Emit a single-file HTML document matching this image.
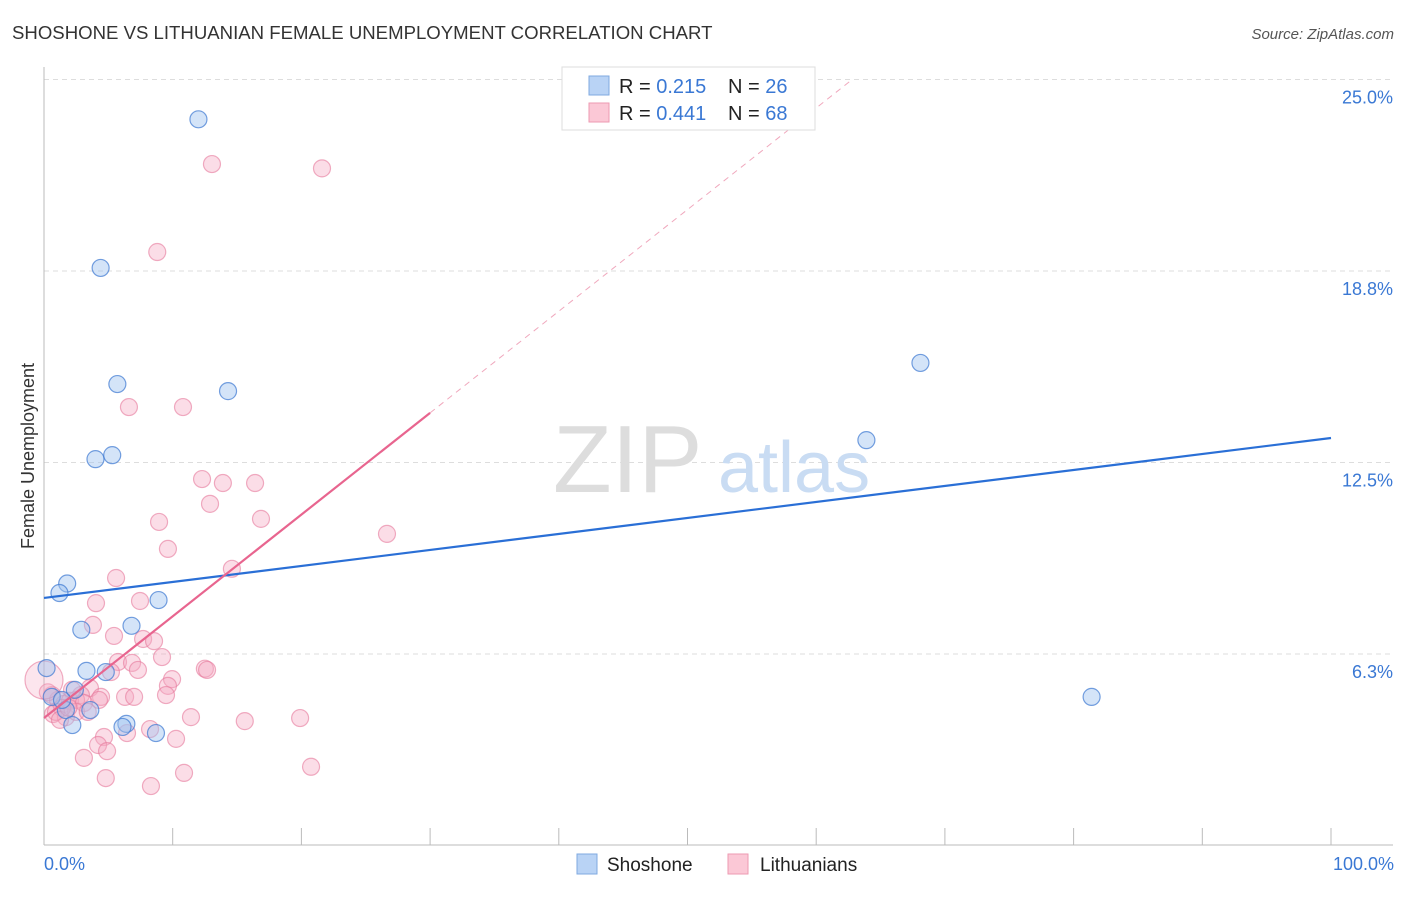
<!DOCTYPE html>
<html><head><meta charset="utf-8"><style>
body{margin:0;background:#fff;font-family:"Liberation Sans",sans-serif;}
svg text{font-family:"Liberation Sans",sans-serif;}
</style></head><body>
<svg id="chart" width="1406" height="892">
<text x="12" y="39" font-size="18.6" fill="#333">SHOSHONE VS LITHUANIAN FEMALE UNEMPLOYMENT CORRELATION CHART</text>
<text x="1394" y="39" font-size="15" fill="#555" text-anchor="end" font-style="italic">Source: ZipAtlas.com</text>
<g id="grid"></g>
<g>
<text x="553" y="492" font-size="96" fill="#ddd" font-family="Liberation Serif">ZIP</text>
<text x="718" y="492" font-size="72" fill="#c9dcf3">atlas</text>
</g>
<g id="axes"></g>
<g id="pts"></g>
<g id="lines"></g>
<text transform="translate(34,456) rotate(-90)" font-size="18" fill="#333" text-anchor="middle">Female Unemployment</text>
<text x="44" y="870" font-size="18" fill="#3a78d4">0.0%</text>
<text x="1394" y="870" font-size="18" fill="#3a78d4" text-anchor="end">100.0%</text>
<g>
<rect x="562" y="67" width="253" height="63" fill="#fff" stroke="#ddd"/>
<rect x="589" y="76" width="20" height="19" fill="#b9d3f5" stroke="#7fa9e0"/>
<rect x="589" y="103" width="20" height="19" fill="#fbc8d6" stroke="#ee9ab2"/>
<text x="619" y="93" font-size="20" fill="#222">R = <tspan fill="#3a78d4">0.215</tspan></text>
<text x="728" y="93" font-size="20" fill="#222">N = <tspan fill="#3a78d4">26</tspan></text>
<text x="619" y="120" font-size="20" fill="#222">R = <tspan fill="#3a78d4">0.441</tspan></text>
<text x="728" y="120" font-size="20" fill="#222">N = <tspan fill="#3a78d4">68</tspan></text>
</g>
<g>
<rect x="577" y="854" width="20" height="20" fill="#b9d3f5" stroke="#7fa9e0"/>
<text x="607" y="871" font-size="19" fill="#222">Shoshone</text>
<rect x="728" y="854" width="20" height="20" fill="#fbc8d6" stroke="#ee9ab2"/>
<text x="760" y="871" font-size="19" fill="#222">Lithuanians</text>
</g>
</svg>
<script>
const yTicks=[6.25,12.5,18.75,25];
const yTickLabels=["6.3%","12.5%","18.8%","25.0%"];
const xTicks=[0,10,20,30,40,50,60,70,80,90,100];
const shoshoneX=[12.0,4.4,5.7,14.3,4.0,5.3,63.9,68.1,81.4,1.8,1.2,8.9,2.9,6.8,3.3,4.8,0.2,0.6,2.4,3.6,1.7,2.2,6.4,6.1,8.7,1.4];
const shoshoneY=[23.7,18.85,15.06,14.83,12.61,12.74,13.23,15.75,4.85,8.55,8.24,8.01,7.04,7.17,5.70,5.66,5.79,4.85,5.08,4.42,4.42,3.93,3.97,3.87,3.67,4.75];
const lithX=[13.05,21.6,8.8,6.6,10.8,12.28,13.9,16.4,12.9,16.86,8.94,26.65,9.63,14.6,5.6,7.46,4.04,3.8,5.44,7.7,8.55,9.17,5.75,6.84,7.3,5.2,12.5,12.67,9.95,9.63,3.57,4.43,6.3,7.0,9.48,2.87,4.27,0.62,1.09,1.55,2.02,2.49,3.1,0.7,1.7,2.49,1.4,11.42,15.6,19.9,8.24,6.45,4.66,10.26,4.2,4.9,3.1,20.75,4.8,10.88,8.31,0.3,0.93,2.18,3.4,1.24,0.0,1.9];
const lithY=[22.24,22.1,19.37,14.31,14.31,11.96,11.83,11.83,11.15,10.66,10.56,10.17,9.68,9.03,8.73,7.98,7.91,7.2,6.84,6.74,6.67,6.15,5.99,5.96,5.73,5.66,5.77,5.73,5.43,5.21,5.14,4.85,4.85,4.85,4.91,4.91,4.75,4.91,4.75,4.62,4.72,4.75,4.65,4.29,4.19,4.36,4.49,4.19,4.06,4.16,3.8,3.67,3.54,3.48,3.28,3.08,2.86,2.57,2.2,2.37,1.94,5.0,4.36,5.08,4.36,4.1,5.4,4.5];
const lithSize=lithX.map((_,i)=>i===66?19:8.5);
const blueLine=[[0,8.08],[100,13.3]];
const pinkLine=[[0,4.16],[30,14.12]];
const pinkDash=[[30,14.12],[62.8,25]];
const NS='http://www.w3.org/2000/svg';
const X=v=>44+v*12.87, Y=v=>845.5-v*30.64;
function mk(tag,attrs,parent){const e=document.createElementNS(NS,tag);for(const k in attrs)e.setAttribute(k,attrs[k]);document.getElementById(parent).appendChild(e);return e;}
yTicks.forEach((t,i)=>{
 const l=mk('line',{x1:44,x2:1393,y1:Y(t),y2:Y(t),stroke:'#ddd','stroke-dasharray':'5,4'},'grid');
 
 
 const tx=mk('text',{x:1393,y:Y(t)+24,'font-size':18,fill:'#3a78d4','text-anchor':'end'},'grid');
 tx.textContent=yTickLabels[i];
 
 
});
const ax=mk('line',{x1:44,x2:1393,y1:845,y2:845,stroke:'#bbb'},'axes');


const ay=mk('line',{x1:44,x2:44,y1:67,y2:845,stroke:'#bbb'},'axes');


xTicks.forEach(t=>{
 const l=mk('line',{x1:X(t),x2:X(t),y1:828,y2:845,stroke:'#bbb'},'axes');
 
 
});
lithX.forEach((v,i)=>{
 const big=lithSize[i]>10;
 const c=mk('circle',{cx:X(v),cy:Y(lithY[i]),r:lithSize[i],fill:big?'rgba(245,170,195,0.3)':'rgba(245,170,195,0.4)',stroke:'rgba(230,120,155,0.6)','stroke-width':1.2},'pts');
 
 
});
shoshoneX.forEach((v,i)=>{
 const c=mk('circle',{cx:X(v),cy:Y(shoshoneY[i]),r:8.5,fill:'rgba(160,195,240,0.45)',stroke:'rgba(60,120,210,0.7)','stroke-width':1.2},'pts');
 
 
});
const bl=mk('line',{x1:X(blueLine[0][0]),y1:Y(blueLine[0][1]),x2:X(blueLine[1][0]),y2:Y(blueLine[1][1]),stroke:'#2a6fd6','stroke-width':2.2},'lines');


const pl=mk('line',{x1:X(pinkLine[0][0]),y1:Y(pinkLine[0][1]),x2:X(pinkLine[1][0]),y2:Y(pinkLine[1][1]),stroke:'#e8658f','stroke-width':2.2},'lines');


const pd=mk('line',{x1:X(pinkDash[0][0]),y1:Y(pinkDash[0][1]),x2:X(pinkDash[1][0]),y2:Y(pinkDash[1][1]),stroke:'#f0a8bd','stroke-width':1,'stroke-dasharray':'6,5'},'lines');


</script>
</body></html>
